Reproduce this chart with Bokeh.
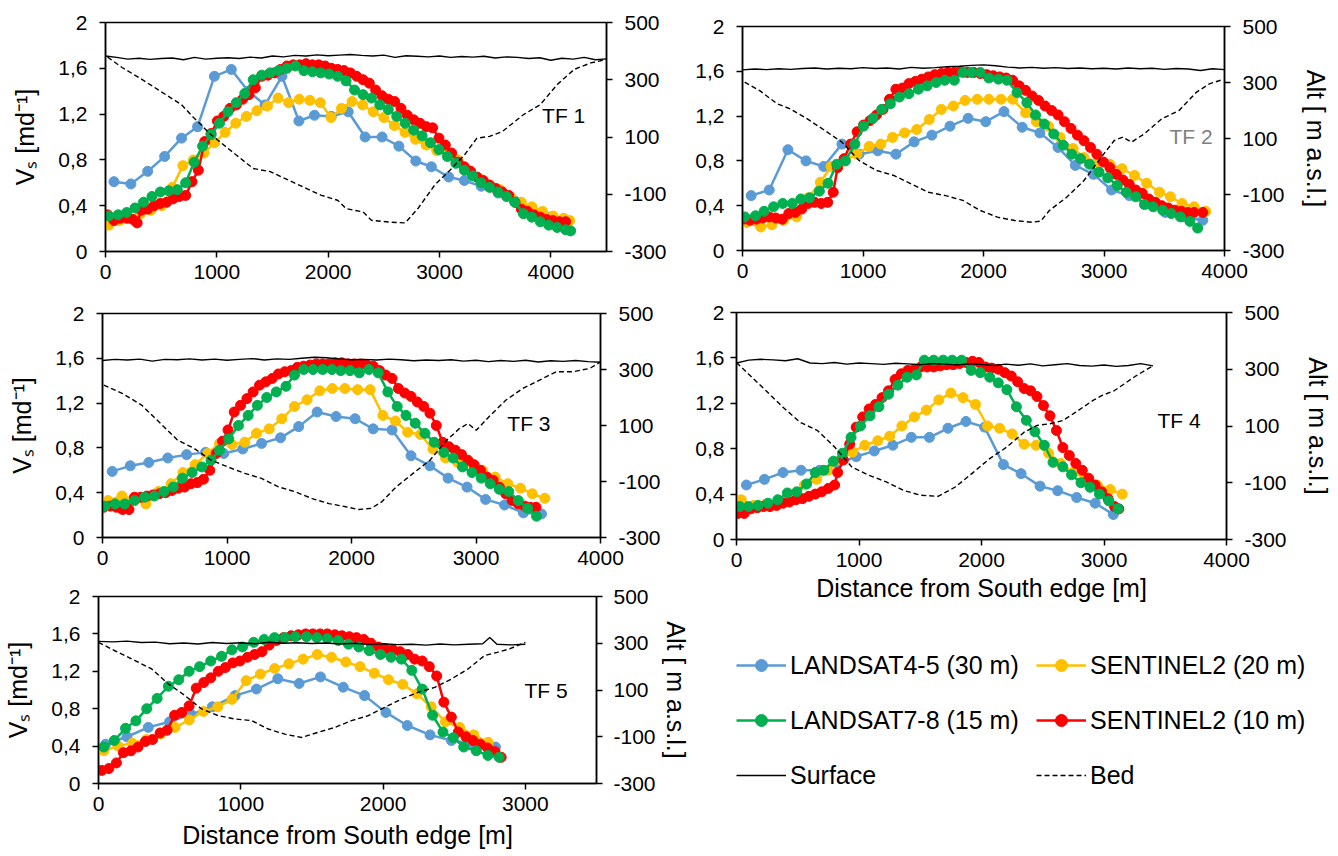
from bokeh.plotting import figure
from bokeh.models import (Range1d, LinearAxis, FixedTicker, Label, Legend, LegendItem,
                          ColumnDataSource, CustomJSTickFormatter)
from bokeh.layouts import column, row
from bokeh.embed import file_html
from bokeh.resources import INLINE

FONT = "Liberation Sans"
C_L45 = "#5B9BD5"
C_S20 = "#FFC000"
C_L78 = "#00B050"
C_S10 = "#FF0000"

SERIES_NAMES = ["LANDSAT4-5 (30 m)", "SENTINEL2 (20 m)", "LANDSAT7-8 (15 m)", "SENTINEL2 (10 m)"]
VS_TICKS = [0, 0.4, 0.8, 1.2, 1.6, 2]
ALT_TICKS = [-300, -100, 100, 300, 500]
VS_TITLE = "Vₛ [md⁻¹]"
ALT_TITLE = "Alt [ m a.s.l.]"
X_TITLE = "Distance from South edge [m]"

# ---------------- TF 1 ----------------
TF1_L45_X = [76, 228, 379, 531, 683, 827, 978, 1130, 1282, 1433, 1585, 1737, 1877, 2028, 2180, 2332, 2484, 2635, 2787, 2927, 3083, 3223, 3375, 3527, 3678, 3830, 3982, 4150]
TF1_L45_V = [0.61, 0.59, 0.70, 0.83, 0.99, 1.09, 1.53, 1.59, 1.40, 1.28, 1.53, 1.14, 1.19, 1.18, 1.22, 1.00, 1.00, 0.92, 0.79, 0.74, 0.65, 0.62, 0.57, 0.51, 0.44, 0.37, 0.30, 0.25]
TF1_L78_X = [30, 114, 190, 265, 341, 417, 493, 569, 645, 720, 796, 872, 948, 1024, 1100, 1175, 1251, 1327, 1403, 1479, 1555, 1630, 1706, 1782, 1858, 1934, 2009, 2085, 2161, 2237, 2313, 2389, 2464, 2540, 2616, 2692, 2768, 2844, 2919, 2995, 3071, 3147, 3223, 3299, 3374, 3450, 3526, 3602, 3678, 3754, 3829, 3905, 3981, 4057, 4133, 4178]
TF1_L78_V = [0.31, 0.32, 0.34, 0.38, 0.43, 0.48, 0.52, 0.53, 0.54, 0.60, 0.78, 0.92, 1.02, 1.12, 1.22, 1.30, 1.38, 1.50, 1.54, 1.56, 1.58, 1.60, 1.62, 1.58, 1.57, 1.56, 1.55, 1.53, 1.49, 1.41, 1.37, 1.34, 1.28, 1.24, 1.18, 1.12, 1.06, 1.01, 0.95, 0.89, 0.83, 0.77, 0.71, 0.66, 0.60, 0.56, 0.52, 0.48, 0.43, 0.33, 0.30, 0.26, 0.23, 0.21, 0.19, 0.18]
TF1_S20_X = [30, 125, 220, 315, 410, 505, 600, 695, 790, 885, 980, 1075, 1170, 1265, 1360, 1455, 1550, 1645, 1740, 1835, 1930, 2025, 2120, 2215, 2310, 2405, 2500, 2595, 2690, 2785, 2880, 2975, 3070, 3165, 3260, 3355, 3450, 3545, 3640, 3735, 3830, 3925, 4020, 4115, 4170]
TF1_S20_V = [0.23, 0.27, 0.29, 0.33, 0.36, 0.40, 0.56, 0.75, 0.80, 0.86, 0.95, 1.04, 1.12, 1.18, 1.23, 1.27, 1.34, 1.30, 1.33, 1.32, 1.30, 1.17, 1.25, 1.31, 1.28, 1.22, 1.17, 1.10, 1.04, 0.98, 0.93, 0.88, 0.86, 0.80, 0.71, 0.64, 0.58, 0.54, 0.48, 0.43, 0.39, 0.35, 0.31, 0.29, 0.27]
TF1_S10_X = [19, 76, 133, 190, 246, 284, 322, 379, 436, 493, 550, 607, 663, 720, 777, 834, 891, 948, 1005, 1062, 1118, 1175, 1232, 1289, 1346, 1403, 1460, 1517, 1573, 1630, 1687, 1744, 1801, 1858, 1915, 1972, 2028, 2085, 2142, 2199, 2256, 2313, 2370, 2427, 2483, 2540, 2597, 2654, 2711, 2768, 2825, 2882, 2938, 2995, 3052, 3109, 3166, 3223, 3280, 3337, 3393, 3450, 3507, 3564, 3621, 3678, 3735, 3792, 3848, 3905, 3962, 4019, 4076, 4133]
TF1_S10_V = [0.32, 0.27, 0.29, 0.29, 0.28, 0.25, 0.36, 0.37, 0.40, 0.42, 0.43, 0.46, 0.48, 0.49, 0.61, 0.71, 0.96, 1.03, 1.14, 1.18, 1.25, 1.28, 1.33, 1.37, 1.43, 1.53, 1.54, 1.56, 1.59, 1.62, 1.63, 1.63, 1.64, 1.63, 1.63, 1.62, 1.60, 1.59, 1.58, 1.56, 1.53, 1.50, 1.47, 1.41, 1.36, 1.33, 1.31, 1.25, 1.19, 1.15, 1.12, 1.09, 1.08, 0.99, 0.93, 0.86, 0.78, 0.74, 0.70, 0.65, 0.62, 0.58, 0.55, 0.52, 0.49, 0.43, 0.37, 0.35, 0.32, 0.30, 0.28, 0.27, 0.26, 0.26]
TF1_SURF_X = [0, 100, 200, 300, 400, 500, 600, 700, 800, 900, 1000, 1100, 1200, 1300, 1400, 1500, 1600, 1700, 1800, 1900, 2000, 2100, 2200, 2300, 2400, 2500, 2600, 2700, 2800, 2900, 3000, 3100, 3200, 3300, 3400, 3500, 3600, 3700, 3800, 3900, 4000, 4100, 4200, 4300, 4400, 4500]
TF1_SURF_A = [383, 378, 372, 375, 371, 374, 376, 370, 378, 372, 375, 377, 374, 379, 376, 383, 380, 385, 383, 387, 384, 386, 388, 385, 383, 386, 378, 384, 382, 380, 383, 378, 381, 379, 382, 376, 380, 378, 374, 377, 368, 375, 372, 378, 370, 373]
TF1_BED_X = [19, 152, 303, 493, 682, 796, 948, 1175, 1327, 1479, 1706, 1934, 2085, 2161, 2313, 2389, 2540, 2692, 2806, 2957, 3109, 3223, 3336, 3450, 3564, 3754, 3905, 4057, 4209, 4360, 4500]
TF1_BED_A = [379, 342, 307, 260, 213, 166, 108, 37, -10, -21, -62, -103, -121, -150, -162, -191, -197, -200, -150, -68, -10, 37, 96, 102, 119, 178, 213, 283, 336, 359, 371]

# ---------------- TF 2 ----------------
TF2_L45_X = [72, 222, 377, 527, 674, 825, 968, 1123, 1273, 1424, 1571, 1722, 1872, 2019, 2170, 2321, 2468, 2618, 2762, 2913, 3063, 3210, 3361, 3508, 3659, 3820]
TF2_L45_V = [0.49, 0.54, 0.90, 0.80, 0.75, 0.95, 0.86, 0.89, 0.86, 0.97, 1.03, 1.11, 1.18, 1.15, 1.24, 1.10, 1.05, 0.92, 0.76, 0.68, 0.54, 0.49, 0.42, 0.34, 0.30, 0.27]
TF2_S20_X = [36, 151, 244, 341, 449, 548, 646, 735, 843, 950, 1051, 1148, 1245, 1345, 1446, 1550, 1650, 1750, 1847, 1948, 2045, 2145, 2242, 2350, 2439, 2540, 2636, 2744, 2834, 2941, 3049, 3149, 3253, 3354, 3461, 3551, 3648, 3748, 3845]
TF2_S20_V = [0.25, 0.21, 0.23, 0.27, 0.30, 0.47, 0.61, 0.75, 0.80, 0.86, 0.93, 0.95, 1.01, 1.05, 1.08, 1.17, 1.26, 1.29, 1.34, 1.35, 1.35, 1.35, 1.35, 1.23, 1.15, 1.11, 1.01, 0.91, 0.83, 0.79, 0.77, 0.73, 0.67, 0.60, 0.52, 0.48, 0.42, 0.39, 0.35]
TF2_L78_X = [18, 108, 179, 258, 334, 413, 484, 556, 638, 710, 782, 854, 933, 1004, 1083, 1155, 1227, 1302, 1381, 1460, 1532, 1607, 1679, 1758, 1829, 1901, 1973, 2045, 2124, 2195, 2278, 2360, 2432, 2504, 2583, 2662, 2733, 2805, 2880, 2959, 3031, 3110, 3185, 3264, 3336, 3408, 3487, 3558, 3634, 3713, 3777]
TF2_L78_V = [0.30, 0.31, 0.35, 0.39, 0.42, 0.42, 0.46, 0.47, 0.53, 0.60, 0.77, 0.80, 0.95, 1.11, 1.18, 1.26, 1.31, 1.37, 1.40, 1.44, 1.47, 1.50, 1.52, 1.52, 1.59, 1.59, 1.59, 1.54, 1.53, 1.52, 1.41, 1.32, 1.21, 1.13, 1.04, 0.94, 0.86, 0.82, 0.77, 0.70, 0.65, 0.58, 0.52, 0.48, 0.41, 0.39, 0.36, 0.33, 0.30, 0.26, 0.20]
TF2_S10_X = [7, 61, 115, 169, 222, 276, 330, 384, 438, 491, 545, 599, 653, 707, 753, 789, 843, 897, 951, 1004, 1058, 1112, 1166, 1220, 1273, 1327, 1381, 1435, 1489, 1542, 1596, 1650, 1704, 1758, 1811, 1865, 1919, 1973, 2027, 2080, 2134, 2188, 2242, 2296, 2349, 2403, 2457, 2511, 2565, 2619, 2672, 2726, 2780, 2834, 2888, 2941, 2995, 3049, 3103, 3157, 3210, 3264, 3318, 3372, 3426, 3479, 3533, 3587, 3641, 3695, 3748, 3820]
TF2_S10_V = [0.28, 0.27, 0.28, 0.29, 0.30, 0.29, 0.28, 0.33, 0.34, 0.37, 0.42, 0.43, 0.42, 0.43, 0.52, 0.74, 0.82, 0.95, 1.06, 1.12, 1.16, 1.21, 1.26, 1.35, 1.44, 1.45, 1.49, 1.51, 1.53, 1.55, 1.57, 1.58, 1.59, 1.59, 1.60, 1.59, 1.59, 1.58, 1.57, 1.56, 1.55, 1.54, 1.52, 1.47, 1.43, 1.38, 1.34, 1.29, 1.25, 1.21, 1.15, 1.09, 1.03, 0.98, 0.92, 0.86, 0.79, 0.74, 0.68, 0.63, 0.59, 0.54, 0.51, 0.46, 0.43, 0.40, 0.38, 0.36, 0.35, 0.34, 0.34, 0.34]
TF2_SURF_X = [0, 100, 200, 300, 400, 500, 600, 700, 800, 900, 1000, 1100, 1200, 1300, 1400, 1500, 1600, 1700, 1800, 1900, 2000, 2100, 2200, 2300, 2400, 2500, 2600, 2700, 2800, 2900, 3000, 3100, 3200, 3300, 3400, 3500, 3600, 3700, 3800, 3900, 4000]
TF2_SURF_A = [345, 348, 346, 349, 347, 350, 352, 348, 351, 349, 353, 350, 352, 348, 354, 351, 353, 356, 358, 361, 363, 360, 355, 352, 354, 351, 353, 350, 352, 349, 351, 348, 352, 349, 351, 347, 350, 348, 343, 349, 346]
TF2_BED_X = [18, 143, 287, 395, 538, 682, 825, 968, 1112, 1255, 1399, 1542, 1686, 1829, 1973, 2116, 2260, 2403, 2475, 2547, 2690, 2834, 2977, 3085, 3157, 3228, 3336, 3479, 3623, 3766, 3874, 3982]
TF2_BED_A = [301, 271, 224, 206, 170, 129, 87, 21, -14, -32, -62, -92, -104, -121, -157, -181, -193, -199, -195, -157, -110, -50, 33, 93, 105, 87, 117, 170, 200, 265, 295, 310]

# ---------------- TF 3 ----------------
TF3_L45_X = [78, 223, 372, 524, 676, 828, 974, 1126, 1278, 1430, 1576, 1724, 1876, 2029, 2174, 2326, 2478, 2630, 2776, 2928, 3077, 3229, 3381, 3526]
TF3_L45_V = [0.59, 0.64, 0.67, 0.71, 0.74, 0.76, 0.75, 0.79, 0.84, 0.89, 0.99, 1.12, 1.08, 1.06, 0.97, 0.96, 0.73, 0.64, 0.53, 0.45, 0.34, 0.29, 0.22, 0.21]
TF3_S20_X = [44, 156, 247, 348, 450, 551, 646, 744, 845, 940, 1041, 1143, 1237, 1339, 1440, 1542, 1643, 1745, 1846, 1947, 2049, 2150, 2252, 2353, 2451, 2553, 2654, 2755, 2853, 2952, 3053, 3154, 3256, 3357, 3452, 3553]
TF3_S20_V = [0.33, 0.37, 0.34, 0.30, 0.41, 0.48, 0.58, 0.65, 0.75, 0.84, 0.83, 0.85, 0.93, 0.97, 1.06, 1.17, 1.23, 1.31, 1.33, 1.33, 1.32, 1.32, 1.09, 1.04, 0.94, 0.92, 0.79, 0.71, 0.67, 0.67, 0.60, 0.54, 0.48, 0.44, 0.39, 0.35]
TF3_L78_X = [20, 101, 179, 257, 338, 416, 494, 568, 642, 720, 798, 872, 940, 1014, 1092, 1170, 1244, 1319, 1396, 1474, 1542, 1616, 1691, 1768, 1843, 1914, 1988, 2063, 2140, 2215, 2292, 2367, 2438, 2512, 2590, 2664, 2742, 2816, 2891, 2968, 3043, 3114, 3188, 3263, 3340, 3415, 3486]
TF3_L78_V = [0.28, 0.30, 0.30, 0.33, 0.36, 0.37, 0.41, 0.45, 0.53, 0.58, 0.63, 0.69, 0.78, 0.88, 1.00, 1.09, 1.18, 1.25, 1.30, 1.35, 1.45, 1.50, 1.50, 1.50, 1.50, 1.49, 1.49, 1.47, 1.50, 1.47, 1.30, 1.17, 1.09, 1.02, 0.93, 0.85, 0.76, 0.71, 0.63, 0.58, 0.53, 0.48, 0.43, 0.41, 0.33, 0.26, 0.19]
TF3_S10_X = [10, 61, 112, 162, 213, 257, 308, 358, 406, 456, 507, 558, 609, 659, 710, 761, 811, 862, 913, 964, 1008, 1058, 1109, 1160, 1210, 1261, 1312, 1363, 1413, 1464, 1515, 1565, 1616, 1667, 1718, 1768, 1819, 1870, 1921, 1971, 2022, 2073, 2123, 2174, 2225, 2275, 2326, 2377, 2428, 2478, 2529, 2580, 2630, 2681, 2732, 2783, 2833, 2884, 2935, 2985, 3036, 3087, 3138, 3188, 3239, 3290, 3340, 3391, 3435, 3482]
TF3_S10_V = [0.27, 0.28, 0.27, 0.25, 0.25, 0.36, 0.36, 0.37, 0.38, 0.39, 0.40, 0.42, 0.44, 0.45, 0.48, 0.49, 0.52, 0.60, 0.75, 0.86, 0.96, 1.12, 1.18, 1.24, 1.30, 1.36, 1.39, 1.42, 1.46, 1.48, 1.49, 1.52, 1.53, 1.54, 1.55, 1.55, 1.55, 1.56, 1.56, 1.55, 1.55, 1.55, 1.54, 1.53, 1.49, 1.45, 1.42, 1.33, 1.29, 1.26, 1.21, 1.17, 1.11, 1.00, 0.85, 0.81, 0.78, 0.74, 0.69, 0.65, 0.60, 0.54, 0.51, 0.45, 0.39, 0.33, 0.30, 0.28, 0.27, 0.27]
TF3_SURF_X = [0, 100, 200, 300, 400, 500, 600, 700, 800, 900, 1000, 1100, 1200, 1300, 1400, 1500, 1600, 1700, 1800, 1900, 2000, 2100, 2200, 2300, 2400, 2500, 2600, 2700, 2800, 2900, 3000, 3100, 3200, 3300, 3400, 3500, 3600, 3700, 3800, 3900, 4000]
TF3_SURF_A = [332, 336, 334, 337, 330, 336, 335, 338, 334, 337, 333, 336, 339, 334, 338, 336, 340, 344, 342, 338, 335, 336, 334, 337, 335, 331, 334, 332, 335, 330, 333, 328, 332, 329, 333, 327, 331, 329, 332, 328, 326]
TF3_BED_X = [10, 162, 314, 467, 602, 737, 872, 1007, 1143, 1278, 1413, 1549, 1684, 1819, 1954, 2056, 2157, 2242, 2360, 2495, 2630, 2766, 2867, 2935, 3002, 3104, 3239, 3374, 3510, 3645, 3780, 3915, 4000]
TF3_BED_A = [244, 214, 173, 107, 48, 18, -24, -48, -71, -89, -119, -137, -161, -179, -190, -200, -196, -173, -119, -71, -24, 48, 89, 107, 83, 131, 190, 232, 262, 292, 292, 304, 327]

# ---------------- TF 4 ----------------
TF4_L45_X = [81, 228, 380, 527, 678, 826, 977, 1125, 1276, 1427, 1575, 1726, 1873, 2025, 2179, 2323, 2478, 2622, 2777, 2928, 3076]
TF4_L45_V = [0.48, 0.53, 0.59, 0.61, 0.61, 0.67, 0.73, 0.78, 0.83, 0.90, 0.90, 0.98, 1.04, 0.99, 0.66, 0.58, 0.47, 0.43, 0.37, 0.32, 0.22]
TF4_S20_X = [39, 138, 237, 336, 435, 555, 654, 749, 850, 949, 1047, 1153, 1251, 1350, 1452, 1550, 1652, 1750, 1849, 1951, 2049, 2148, 2250, 2348, 2446, 2548, 2647, 2745, 2847, 2946, 3051, 3149]
TF4_S20_V = [0.35, 0.30, 0.31, 0.33, 0.40, 0.48, 0.53, 0.61, 0.70, 0.77, 0.83, 0.87, 0.91, 1.00, 1.08, 1.14, 1.23, 1.29, 1.25, 1.19, 1.00, 0.98, 0.93, 0.84, 0.83, 0.76, 0.67, 0.59, 0.54, 0.48, 0.44, 0.40]
TF4_L78_X = [28, 98, 176, 257, 337, 415, 492, 573, 643, 713, 791, 865, 935, 1012, 1090, 1163, 1241, 1318, 1392, 1469, 1533, 1610, 1687, 1761, 1838, 1916, 1990, 2067, 2137, 2207, 2285, 2366, 2436, 2513, 2584, 2664, 2735, 2812, 2886, 2963, 3040, 3114]
TF4_L78_V = [0.29, 0.29, 0.30, 0.32, 0.35, 0.41, 0.42, 0.49, 0.59, 0.61, 0.69, 0.76, 0.90, 1.00, 1.09, 1.17, 1.28, 1.36, 1.43, 1.45, 1.58, 1.58, 1.58, 1.58, 1.58, 1.49, 1.47, 1.43, 1.38, 1.32, 1.17, 1.05, 0.95, 0.83, 0.68, 0.64, 0.57, 0.50, 0.46, 0.40, 0.34, 0.27]
TF4_S10_X = [11, 63, 116, 169, 221, 274, 327, 380, 432, 485, 538, 591, 643, 696, 749, 801, 826, 872, 924, 977, 1030, 1083, 1135, 1188, 1241, 1294, 1346, 1399, 1452, 1504, 1557, 1610, 1663, 1715, 1768, 1821, 1873, 1926, 1979, 2032, 2084, 2137, 2190, 2243, 2295, 2348, 2401, 2453, 2506, 2559, 2612, 2664, 2717, 2770, 2823, 2875, 2928, 2981, 3033, 3086, 3121]
TF4_S10_V = [0.23, 0.23, 0.27, 0.28, 0.29, 0.29, 0.30, 0.32, 0.33, 0.35, 0.36, 0.38, 0.40, 0.42, 0.45, 0.48, 0.59, 0.70, 0.84, 0.99, 1.08, 1.15, 1.19, 1.25, 1.31, 1.41, 1.46, 1.49, 1.50, 1.52, 1.52, 1.52, 1.53, 1.54, 1.54, 1.55, 1.56, 1.57, 1.56, 1.52, 1.51, 1.50, 1.47, 1.44, 1.39, 1.33, 1.31, 1.26, 1.18, 1.09, 0.96, 0.81, 0.74, 0.67, 0.61, 0.54, 0.48, 0.42, 0.36, 0.29, 0.27]
TF4_SURF_X = [0, 100, 200, 300, 400, 500, 600, 700, 800, 900, 1000, 1100, 1200, 1300, 1400, 1500, 1600, 1700, 1800, 1900, 2000, 2100, 2200, 2300, 2400, 2500, 2600, 2700, 2800, 2900, 3000, 3100, 3200, 3300, 3400]
TF4_SURF_A = [322, 332, 335, 333, 330, 337, 322, 320, 324, 318, 322, 320, 317, 321, 319, 316, 320, 318, 315, 319, 317, 313, 318, 314, 319, 312, 316, 320, 313, 311, 315, 310, 313, 320, 312]
TF4_BED_X = [0, 98, 239, 380, 520, 661, 801, 942, 1083, 1223, 1364, 1504, 1645, 1786, 1926, 2067, 2207, 2348, 2453, 2559, 2664, 2770, 2910, 2981, 3086, 3262, 3403]
TF4_BED_A = [324, 283, 225, 166, 113, 84, 26, -45, -74, -97, -127, -144, -148, -115, -66, -15, 26, 78, 102, 108, 119, 149, 190, 207, 225, 277, 313]

# ---------------- TF 5 ----------------
TF5_L45_X = [50, 200, 350, 500, 650, 800, 960, 1110, 1260, 1410, 1560, 1720, 1870, 2020, 2170, 2330, 2480, 2630, 2790]
TF5_L45_V = [0.42, 0.50, 0.60, 0.66, 0.74, 0.82, 0.94, 1.01, 1.12, 1.07, 1.14, 1.03, 0.94, 0.76, 0.62, 0.52, 0.46, 0.43, 0.39]
TF5_S20_X = [38, 138, 238, 338, 438, 538, 638, 738, 838, 938, 1038, 1138, 1238, 1338, 1438, 1538, 1638, 1738, 1838, 1938, 2038, 2138, 2238, 2338, 2438, 2538, 2638, 2738]
TF5_S20_V = [0.35, 0.40, 0.43, 0.47, 0.53, 0.60, 0.68, 0.77, 0.82, 0.90, 1.10, 1.17, 1.23, 1.28, 1.33, 1.38, 1.35, 1.30, 1.25, 1.18, 1.11, 1.06, 0.96, 0.82, 0.66, 0.60, 0.52, 0.44]
TF5_L78_X = [38, 111, 190, 263, 339, 412, 491, 564, 637, 711, 789, 865, 938, 1012, 1091, 1164, 1237, 1310, 1383, 1462, 1535, 1608, 1684, 1757, 1830, 1903, 1982, 2056, 2129, 2202, 2275, 2348, 2421, 2494, 2567, 2655, 2737, 2816]
TF5_L78_V = [0.39, 0.46, 0.59, 0.67, 0.80, 0.91, 1.04, 1.11, 1.20, 1.25, 1.31, 1.36, 1.43, 1.46, 1.51, 1.54, 1.56, 1.56, 1.57, 1.57, 1.56, 1.55, 1.53, 1.49, 1.46, 1.42, 1.38, 1.35, 1.33, 1.21, 1.01, 0.73, 0.55, 0.49, 0.39, 0.35, 0.30, 0.28]
TF5_S10_X = [23, 73, 126, 175, 228, 278, 330, 380, 433, 482, 535, 585, 637, 687, 740, 789, 842, 892, 944, 994, 1047, 1097, 1149, 1199, 1251, 1301, 1354, 1404, 1456, 1506, 1558, 1608, 1661, 1711, 1763, 1813, 1865, 1915, 1968, 2018, 2070, 2120, 2173, 2222, 2275, 2325, 2377, 2427, 2480, 2529, 2582, 2632, 2684, 2734, 2787, 2830]
TF5_S10_V = [0.14, 0.16, 0.22, 0.33, 0.35, 0.39, 0.45, 0.47, 0.54, 0.57, 0.73, 0.76, 0.83, 1.02, 1.08, 1.13, 1.20, 1.24, 1.29, 1.31, 1.35, 1.38, 1.41, 1.48, 1.53, 1.56, 1.58, 1.59, 1.60, 1.60, 1.60, 1.60, 1.59, 1.58, 1.57, 1.56, 1.54, 1.50, 1.46, 1.44, 1.43, 1.41, 1.38, 1.33, 1.31, 1.25, 1.15, 0.87, 0.71, 0.55, 0.50, 0.46, 0.42, 0.38, 0.34, 0.28]
TF5_SURF_X = [0, 100, 200, 300, 400, 500, 600, 700, 800, 900, 1000, 1100, 1200, 1300, 1400, 1500, 1600, 1700, 1800, 1900, 2000, 2100, 2200, 2300, 2400, 2500, 2600, 2700, 2750, 2800, 2900, 3000]
TF5_SURF_A = [308, 306, 309, 303, 305, 298, 301, 297, 303, 299, 302, 298, 304, 300, 302, 299, 301, 297, 300, 295, 298, 294, 296, 292, 297, 293, 296, 298, 325, 296, 293, 296]
TF5_BED_X = [0, 111, 257, 374, 491, 608, 725, 842, 959, 1076, 1193, 1310, 1427, 1544, 1661, 1778, 1895, 2012, 2129, 2246, 2363, 2480, 2597, 2713, 2801, 2889, 3000]
TF5_BED_A = [304, 269, 226, 190, 126, 76, 19, -10, -24, -31, -67, -89, -103, -81, -60, -31, -10, 26, 61, 90, 111, 147, 190, 247, 261, 276, 304]

TF_LABELS = ["TF 1", "TF 2", "TF 3", "TF 4", "TF 5"]
TF_POS = [(4115, 1.19), (3723, 1.02), (3425, 1.02), (3613, 1.05), (3146, 0.99)]

VS_FMT = CustomJSTickFormatter(code="""
    var s = tick.toFixed(1).replace('.', ',');
    if (s.endsWith(',0')) { s = s.slice(0, -2); }
    return s;
""")
ALT_FMT = CustomJSTickFormatter(code="return String(tick);")

BED_DASH = "5 3"


def style_axis(ax, ticks, standoff, tick_out=6):
    ax.ticker = FixedTicker(ticks=ticks)
    ax.major_label_text_font = FONT
    ax.major_label_text_font_size = "21px"
    ax.major_label_text_color = "black"
    ax.axis_line_color = "black"
    ax.axis_line_width = 1.5
    ax.major_tick_line_color = "black"
    ax.major_tick_line_width = 1.5
    ax.major_tick_in = 0
    ax.major_tick_out = tick_out
    ax.minor_tick_line_color = None
    ax.major_label_standoff = standoff
    ax.axis_label_text_font = FONT
    ax.axis_label_text_font_size = "25px"
    ax.axis_label_text_font_style = "normal"
    ax.axis_label_text_color = "black"


def panel(width, height, bl, br, bt, bb, xmax, xticks, l45, s20, l78, s10, surf, bed,
          tf_idx, tf_color, vs_title, alt_title, x_title,
          left_standoff=12, right_standoff=12, alt_title_standoff=14,
          x_title_standoff=5, vs_title_standoff=16):
    p = figure(width=width, height=height, x_range=Range1d(0, xmax), y_range=Range1d(0, 2),
               output_backend="svg", toolbar_location=None, frame_align=False,
               min_border_left=bl, min_border_right=br, min_border_top=bt, min_border_bottom=bb)
    p.extra_y_ranges = {"alt": Range1d(-300, 500)}
    p.grid.visible = False
    p.outline_line_color = "black"
    p.outline_line_width = 1.5
    p.background_fill_color = "white"
    p.border_fill_color = "white"

    style_axis(p.xaxis[0], xticks, 7)
    if x_title:
        p.xaxis[0].axis_label = X_TITLE
        p.xaxis[0].axis_label_standoff = x_title_standoff

    ly = p.yaxis[0]
    style_axis(ly, VS_TICKS, left_standoff)
    ly.formatter = VS_FMT
    if vs_title:
        ly.axis_label = VS_TITLE
        ly.axis_label_standoff = vs_title_standoff

    ry = LinearAxis(y_range_name="alt")
    style_axis(ry, ALT_TICKS, right_standoff)
    ry.formatter = ALT_FMT
    if alt_title:
        ry.axis_label = ALT_TITLE
        ry.axis_label_standoff = alt_title_standoff
    p.add_layout(ry, "right")

    for (xs, vs), color in [(l45, C_L45), (s20, C_S20), (s10, C_S10), (l78, C_L78)]:
        src = ColumnDataSource(dict(x=xs, y=vs))
        p.line("x", "y", source=src, line_color=color, line_width=2.5)
        p.scatter("x", "y", source=src, marker="circle", size=10,
                  fill_color=color, line_color=color)

    p.line(surf[0], surf[1], y_range_name="alt", line_color="black", line_width=1.4)
    p.line(bed[0], bed[1], y_range_name="alt", line_color="black", line_width=1.4,
           line_dash=BED_DASH)

    tx, ty = TF_POS[tf_idx]
    p.add_layout(Label(x=tx, y=ty, text=TF_LABELS[tf_idx], text_font=FONT,
                       text_font_size="21px", text_color=tf_color,
                       text_align="center", text_baseline="middle"))
    return p


LEFT_W = 692
RIGHT_W = 1338 - LEFT_W

p1 = panel(LEFT_W, 290, 105, LEFT_W - 606, 22, 39, 4500, [0, 1000, 2000, 3000, 4000],
           (TF1_L45_X, TF1_L45_V), (TF1_S20_X, TF1_S20_V), (TF1_L78_X, TF1_L78_V), (TF1_S10_X, TF1_S10_V),
           (TF1_SURF_X, TF1_SURF_A), (TF1_BED_X, TF1_BED_A), 0, "black", True, False, False)
p3 = panel(LEFT_W, 290, 102, LEFT_W - 600, 23, 43, 4000, [0, 1000, 2000, 3000, 4000],
           (TF3_L45_X, TF3_L45_V), (TF3_S20_X, TF3_S20_V), (TF3_L78_X, TF3_L78_V), (TF3_S10_X, TF3_S10_V),
           (TF3_SURF_X, TF3_SURF_A), (TF3_BED_X, TF3_BED_A), 2, "black", True, False, False)
p5 = panel(LEFT_W, 276, 98, LEFT_W - 602, 16, 73, 3500, [0, 1000, 2000, 3000],
           (TF5_L45_X, TF5_L45_V), (TF5_S20_X, TF5_S20_V), (TF5_L78_X, TF5_L78_V), (TF5_S10_X, TF5_S10_V),
           (TF5_SURF_X, TF5_SURF_A), (TF5_BED_X, TF5_BED_A), 4, "black", True, True, True,
           right_standoff=11, alt_title_standoff=3, x_title_standoff=7)
p2 = panel(RIGHT_W, 290, 742 - LEFT_W, 1338 - 1224, 26, 40, 4000, [0, 1000, 2000, 3000, 4000],
           (TF2_L45_X, TF2_L45_V), (TF2_S20_X, TF2_S20_V), (TF2_L78_X, TF2_L78_V), (TF2_S10_X, TF2_S10_V),
           (TF2_SURF_X, TF2_SURF_A), (TF2_BED_X, TF2_BED_A), 1, "#7F7F7F", False, True, False)
p4 = panel(RIGHT_W, 320, 734 - LEFT_W, 1338 - 1226, 22, 71, 4000, [0, 1000, 2000, 3000, 4000],
           (TF4_L45_X, TF4_L45_V), (TF4_S20_X, TF4_S20_V), (TF4_L78_X, TF4_L78_V), (TF4_S10_X, TF4_S10_V),
           (TF4_SURF_X, TF4_SURF_A), (TF4_BED_X, TF4_BED_A), 3, "black", False, True, True,
           left_standoff=6, x_title_standoff=4)

# ---------------- legend panel ----------------
lg = figure(width=RIGHT_W, height=246, x_range=Range1d(0, 1), y_range=Range1d(0, 1),
            output_backend="svg", toolbar_location=None, min_border=0, frame_align=False,
            x_axis_location=None, y_axis_location=None)
lg.grid.visible = False
lg.outline_line_color = None


def legend_entry(xs, vs, color, name):
    src = ColumnDataSource(dict(x=xs, y=vs))
    ln = lg.line("x", "y", source=src, line_color=color, line_width=2.5, visible=False)
    sc = lg.scatter("x", "y", source=src, marker="circle", size=9,
                    fill_color=color, line_color=color, visible=False)
    return LegendItem(label=name, renderers=[ln, sc])


it_l45 = legend_entry(TF5_L45_X, TF5_L45_V, C_L45, SERIES_NAMES[0])
it_s20 = legend_entry(TF5_S20_X, TF5_S20_V, C_S20, SERIES_NAMES[1])
it_l78 = legend_entry(TF5_L78_X, TF5_L78_V, C_L78, SERIES_NAMES[2])
it_s10 = legend_entry(TF5_S10_X, TF5_S10_V, C_S10, SERIES_NAMES[3])
surf_r = lg.line(TF5_SURF_X, TF5_SURF_A, line_color="black", line_width=1.4, visible=False)
bed_r = lg.line(TF5_BED_X, TF5_BED_A, line_color="black", line_width=1.4, line_dash=BED_DASH,
                visible=False)
it_surf = LegendItem(label="Surface", renderers=[surf_r])
it_bed = LegendItem(label="Bed", renderers=[bed_r])


def make_legend(items, x):
    return Legend(items=items, location=(x, 66), orientation="vertical",
                  label_text_font=FONT, label_text_font_size="25px", label_text_color="black",
                  glyph_width=50, glyph_height=30, label_height=30, spacing=25,
                  padding=0, margin=0, label_standoff=4,
                  border_line_color=None, background_fill_alpha=0)


lg.add_layout(make_legend([it_l45, it_l78, it_surf], 44))
lg.add_layout(make_legend([it_s20, it_s10, it_bed], 344))

layout = row(column(p1, p3, p5), column(p2, p4, lg))

with open("out.html", "w") as f:
    f.write(file_html(layout, INLINE))
